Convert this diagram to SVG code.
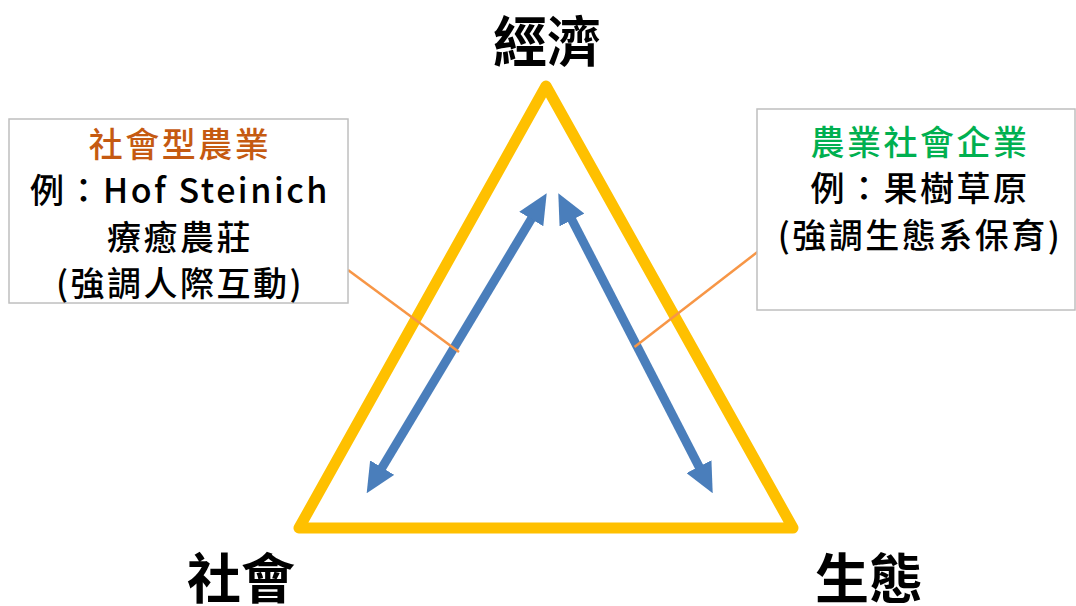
<svg xmlns="http://www.w3.org/2000/svg" width="1076" height="606" viewBox="0 0 1076 606">
<style>
.box{fill:#fff;stroke:#BFBFBF;stroke-width:1.5}
.t{font-family:"Noto Sans CJK TC","Noto Sans",sans-serif;font-size:34px;font-weight:500;text-anchor:middle;fill:#000;letter-spacing:2.5px}
.big{font-family:"Noto Sans CJK TC","Noto Sans",sans-serif;font-size:54px;font-weight:bold;text-anchor:middle;fill:#000}
.tri{fill:none;stroke:#FFC000;stroke-width:11;stroke-linejoin:round}
.arr{stroke:#4A7EBB;stroke-width:9;fill:none;marker-start:url(#ah);marker-end:url(#ah)}
.lead{stroke:#F79646;stroke-width:2.5;fill:none}
</style>
<defs>
<marker id="ah" markerUnits="userSpaceOnUse" markerWidth="30" markerHeight="28" viewBox="0 0 30 28" refX="2" refY="14" orient="auto-start-reverse">
<path d="M0,0 L30,14 L0,28 z" fill="#4A7EBB"/>
</marker>
</defs>
<rect width="1076" height="606" fill="#fff"/>
<g id="triangle">
<path class="tri" d="M546,86 L299,528 L793,528 Z"/>
</g>
<g id="connectors">
<line class="arr" x1="381.1" y1="469.3" x2="532.3" y2="217.3"/>
<line class="arr" x1="571.1" y1="218.2" x2="699.9" y2="468.4"/>
<line class="lead" x1="348" y1="270" x2="459" y2="352"/>
<line class="lead" x1="634.5" y1="347" x2="760" y2="250"/>
</g>
<g id="node-economy">
<text class="big" x="547" y="62">經濟</text>
</g>
<g id="node-society">
<text class="big" x="241" y="599">社會</text>
</g>
<g id="node-ecology">
<text class="big" x="869" y="599">生態</text>
</g>
<g id="node-social-farming">
<rect class="box" x="9" y="119" width="339" height="184"/>
<text class="t" x="180" y="157" style="fill:#C55A11">社會型農業</text>
<text class="t" x="180" y="203">例：Hof Steinich</text>
<text class="t" x="180" y="250">療癒農莊</text>
<text class="t" x="180" y="296">(強調人際互動)</text>
</g>
<g id="node-agri-social-enterprise">
<rect class="box" x="757" y="109" width="318" height="201"/>
<text class="t" x="920" y="155" style="fill:#00B050">農業社會企業</text>
<text class="t" x="920" y="201">例：果樹草原</text>
<text class="t" x="920" y="248">(強調生態系保育)</text>
</g>
</svg>
